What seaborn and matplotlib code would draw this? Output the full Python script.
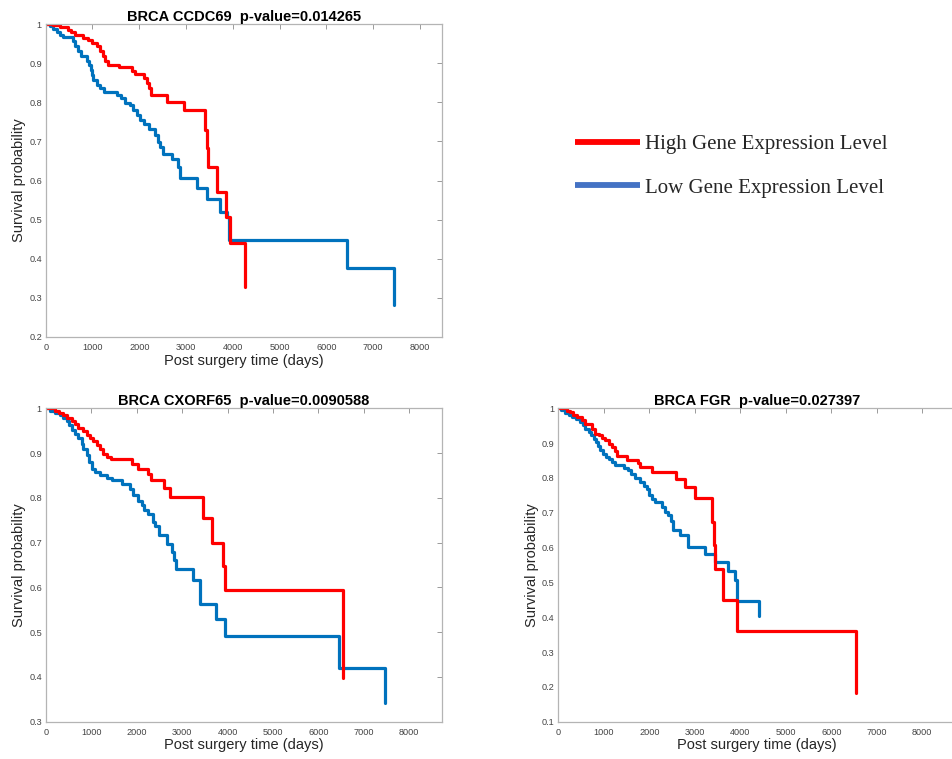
import numpy as np
import pandas as pd
import matplotlib
matplotlib.use("Agg")
import matplotlib.pyplot as plt
from matplotlib.lines import Line2D
from matplotlib.ticker import FuncFormatter
import seaborn as sns

# ---------------- data ----------------
titles = ["BRCA CCDC69  p-value=0.014265",
          "BRCA CXORF65  p-value=0.0090588",
          "BRCA FGR  p-value=0.027397"]
legend_labels = ["High Gene Expression Level", "Low Gene Expression Level"]
x_label = "Post surgery time (days)"
y_label = "Survival probability"
x_ticks = [0, 1000, 2000, 3000, 4000, 5000, 6000, 7000, 8000]

# CCDC69
ccdc69_high_t = [0, 150, 305, 474, 545, 617, 807, 914, 985, 1092, 1164, 1214, 1271, 1342, 1556,
                 1841, 1898, 2091, 2163, 2212, 2255, 2600, 2960, 3410, 3446, 3470, 3655, 3853, 3932, 4259]
ccdc69_high_s = [1, 0.997, 0.992, 0.985, 0.980, 0.973, 0.964, 0.958, 0.951, 0.943, 0.930, 0.917, 0.905,
                 0.896, 0.889, 0.879, 0.872, 0.862, 0.849, 0.836, 0.819, 0.801, 0.781, 0.729, 0.683,
                 0.635, 0.571, 0.507, 0.440, 0.329]
ccdc69_low_t = [0, 92, 164, 235, 306, 378, 577, 627, 698, 748, 877, 934, 963, 984, 1020, 1092, 1163,
                1249, 1520, 1600, 1698, 1805, 1876, 1948, 2020, 2091, 2198, 2336, 2394, 2443, 2513,
                2693, 2827, 2870, 3227, 3447, 3725, 3874, 3917, 3928, 6447, 7452]
ccdc69_low_s = [1, 0.994, 0.988, 0.980, 0.971, 0.966, 0.956, 0.943, 0.930, 0.917, 0.905, 0.896, 0.883,
                0.870, 0.858, 0.845, 0.836, 0.826, 0.819, 0.811, 0.798, 0.792, 0.781, 0.768, 0.755,
                0.744, 0.732, 0.716, 0.699, 0.685, 0.669, 0.654, 0.635, 0.606, 0.580, 0.552, 0.520,
                0.507, 0.484, 0.448, 0.376, 0.281]

# CXORF65
cxorf65_high_t = [0, 210, 290, 380, 470, 570, 640, 715, 810, 910, 975, 1047, 1135, 1195, 1268, 1342,
                  1430, 1890, 2020, 2240, 2310, 2600, 2740, 3460, 3652, 3910, 3950, 6550]
cxorf65_high_s = [1, 0.995, 0.990, 0.984, 0.978, 0.972, 0.965, 0.956, 0.949, 0.941, 0.934, 0.926,
                  0.919, 0.910, 0.899, 0.891, 0.886, 0.876, 0.865, 0.854, 0.840, 0.821, 0.801, 0.754,
                  0.700, 0.648, 0.594, 0.397]
cxorf65_low_t = [0, 95, 205, 315, 374, 462, 520, 572, 645, 718, 791, 828, 902, 960, 1011, 1085, 1195,
                 1342, 1452, 1672, 1855, 1928, 2038, 2112, 2163, 2250, 2369, 2405, 2490, 2670, 2772,
                 2830, 2875, 3240, 3395, 3740, 3950, 6460, 7475]
cxorf65_low_s = [1, 0.995, 0.990, 0.984, 0.978, 0.971, 0.962, 0.951, 0.943, 0.934, 0.921, 0.910,
                 0.895, 0.880, 0.865, 0.858, 0.852, 0.844, 0.839, 0.832, 0.820, 0.806, 0.794, 0.783,
                 0.772, 0.765, 0.747, 0.736, 0.717, 0.698, 0.680, 0.661, 0.642, 0.616, 0.563, 0.530,
                 0.492, 0.420, 0.341]

# FGR
fgr_high_t = [0, 191, 264, 316, 411, 521, 594, 741, 800, 888, 960, 1033, 1121, 1180, 1239, 1290, 1510,
              1760, 1802, 2065, 2580, 2788, 3010, 3385, 3429, 3437, 3626, 3930, 6540]
fgr_high_s = [1, 0.993, 0.988, 0.982, 0.975, 0.966, 0.956, 0.941, 0.927, 0.922, 0.915, 0.908, 0.898,
              0.889, 0.876, 0.863, 0.852, 0.842, 0.831, 0.818, 0.798, 0.774, 0.741, 0.674, 0.607,
              0.538, 0.449, 0.360, 0.183]
fgr_low_t = [0, 66, 139, 228, 301, 389, 484, 536, 594, 667, 725, 777, 828, 872, 923, 975, 1048, 1121,
             1180, 1253, 1437, 1532, 1605, 1693, 1802, 1876, 1949, 2000, 2059, 2132, 2279, 2352, 2418,
             2469, 2527, 2674, 2840, 3222, 3442, 3736, 3883, 3920, 3934, 4411]
fgr_low_s = [1, 0.994, 0.987, 0.982, 0.975, 0.968, 0.961, 0.951, 0.941, 0.932, 0.922, 0.913, 0.903,
             0.892, 0.879, 0.870, 0.860, 0.853, 0.846, 0.836, 0.828, 0.822, 0.812, 0.800, 0.788,
             0.777, 0.767, 0.750, 0.739, 0.731, 0.716, 0.702, 0.694, 0.677, 0.651, 0.636, 0.603,
             0.581, 0.559, 0.533, 0.507, 0.476, 0.446, 0.404]

ccdc69_y_ticks = [0.2, 0.3, 0.4, 0.5, 0.6, 0.7, 0.8, 0.9, 1.0]
cxorf65_y_ticks = [0.3, 0.4, 0.5, 0.6, 0.7, 0.8, 0.9, 1.0]
fgr_y_ticks = [0.1, 0.2, 0.3, 0.4, 0.5, 0.6, 0.7, 0.8, 0.9, 1.0]

# ---------------- style ----------------
sns.set_style("white")
plt.rcParams["font.family"] = ["Liberation Sans", "DejaVu Sans"]

HIGH_COLOR = "#FF0000"
LOW_COLOR = "#0072BD"
LEGEND_LOW_COLOR = "#4472C4"

W, H = 952, 759
fig = plt.figure(figsize=(W / 100, H / 100), dpi=100)
fig.patch.set_facecolor("white")


def px_axes(left, top, width, height):
    return fig.add_axes([left / W, 1 - (top + height) / H, width / W, height / H])


panels = [
    dict(rect=(45.7, 24.0, 396.6, 313.0), xmax=8476, ylim=(0.2, 1.0), yticks=ccdc69_y_ticks,
         title=titles[0], high=(ccdc69_high_t, ccdc69_high_s), low=(ccdc69_low_t, ccdc69_low_s),
         right=True),
    dict(rect=(45.7, 408.3, 396.6, 313.4), xmax=8726, ylim=(0.3, 1.0), yticks=cxorf65_y_ticks,
         title=titles[1], high=(cxorf65_high_t, cxorf65_high_s), low=(cxorf65_low_t, cxorf65_low_s),
         right=True),
    dict(rect=(558.3, 408.3, 397.0, 313.4), xmax=8726, ylim=(0.1, 1.0), yticks=fgr_y_ticks,
         title=titles[2], high=(fgr_high_t, fgr_high_s), low=(fgr_low_t, fgr_low_s),
         right=False),
]

fmt = FuncFormatter(lambda v, p: f"{v:g}")

for p in panels:
    ax = px_axes(*p["rect"])
    ax.set_facecolor("white")
    for key, color in (("low", LOW_COLOR), ("high", HIGH_COLOR)):
        t, s = p[key]
        df = pd.DataFrame({"t": t, "s": s})
        sns.lineplot(data=df, x="t", y="s", ax=ax, color=color, linewidth=2.3,
                     drawstyle="steps-post", estimator=None, sort=False)
    ax.set_xlim(0, p["xmax"])
    ax.set_ylim(*p["ylim"])
    ax.set_xticks(x_ticks)
    ax.set_yticks(p["yticks"])
    ax.yaxis.set_major_formatter(fmt)
    ax.tick_params(direction="in", top=True, right=p["right"], length=3.5, width=0.7,
                   color="#9a9a9a", labelsize=6.6, labelcolor="#444444")
    ax.tick_params(axis="x", pad=4.5)
    ax.tick_params(axis="y", pad=2.7)
    for sp in ax.spines.values():
        sp.set_color("#b4b4b4")
        sp.set_linewidth(0.9)
        sp.set_visible(True)
    ax.set_xlabel(x_label, fontsize=10.5, color="#262626", labelpad=1.0)
    ax.set_ylabel(y_label, fontsize=10.5, color="#262626", labelpad=2.0)
    ax.set_title(p["title"], fontsize=10.5, fontweight="bold", color="black", pad=2.5)

handles = [Line2D([], [], color=HIGH_COLOR, linewidth=4.2, solid_capstyle="butt"),
           Line2D([], [], color=LEGEND_LOW_COLOR, linewidth=4.2, solid_capstyle="butt")]
fig.legend(handles, legend_labels, loc="upper left", bbox_to_anchor=(575 / W, 1 - 134.5 / H),
           frameon=False, borderpad=0, borderaxespad=0, handlelength=3.1, handletextpad=0.25,
           labelspacing=1.15, prop={"family": ["Liberation Serif", "DejaVu Serif"], "size": 15})

fig.savefig("out.png", dpi=100, facecolor="white")
